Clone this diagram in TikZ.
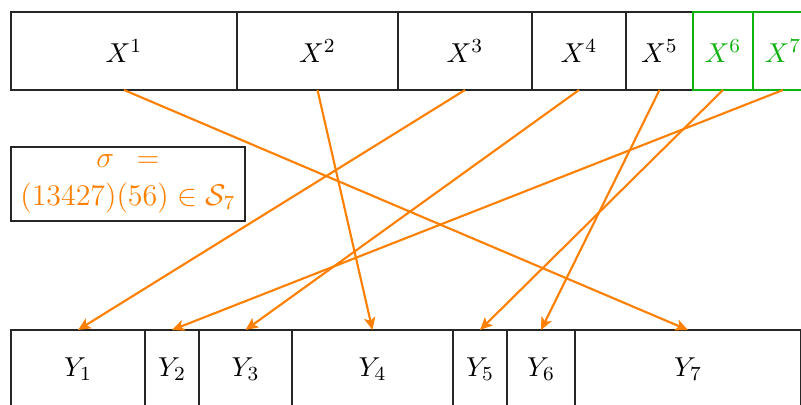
\documentclass[tikz,border=0pt]{standalone}
\usetikzlibrary{arrows.meta}
\def\pxu{0.4pt}
\definecolor{grn}{rgb}{0.05,0.70,0.05}
\definecolor{org}{rgb}{1,0.5,0}
\tikzset{
  cell/.style={draw=black!85, line width=0.45pt, inner sep=0pt, outer sep=0pt, minimum height=78*\pxu, font=\fontsize{11}{13}\selectfont},
  gcell/.style={cell, draw=grn, text=grn},
  map/.style={draw=org, line width=0.85pt, -{Stealth[length=5pt,width=4.5pt,inset=1.2pt]}},
}
\begin{document}
\begin{tikzpicture}[x=0.4pt,y=-0.4pt]
\useasboundingbox (0,0) rectangle (801,405);
\begin{scope}
\clip (0,0) rectangle (801,405);
% top row
\node[cell, minimum width=226*\pxu] (X1) at (124,51) {$X^1$};
\node[cell, minimum width=161*\pxu] (X2) at (317.5,51) {$X^2$};
\node[cell, minimum width=134*\pxu] (X3) at (465,51) {$X^3$};
\node[cell, minimum width=94*\pxu] (X4) at (579,51) {$X^4$};
\node[cell, minimum width=67*\pxu] (X5) at (659.5,51) {$X^5$};
\node[gcell, minimum width=60*\pxu] (X6) at (723,51) {$X^6$};
\node[gcell, minimum width=60*\pxu] (X7) at (783,51) {$X^7$};
% bottom row
\node[cell, minimum width=134*\pxu] (Y1) at (78,369) {$Y_1$};
\node[cell, minimum width=54*\pxu] (Y2) at (172,369) {$Y_2$};
\node[cell, minimum width=93*\pxu] (Y3) at (245.5,369) {$Y_3$};
\node[cell, minimum width=161*\pxu] (Y4) at (372.5,369) {$Y_4$};
\node[cell, minimum width=54*\pxu] (Y5) at (480,369) {$Y_5$};
\node[cell, minimum width=68*\pxu] (Y6) at (541,369) {$Y_6$};
\node[cell, minimum width=226*\pxu] (Y7) at (688,369) {$Y_7$};
\end{scope}
% permutation box
\node[cell, text=org, minimum width=234*\pxu, minimum height=74*\pxu, align=center,
      font=\fontsize{11.6}{15}\selectfont] (S) at (128,184)
  {${\sigma}\hspace{9pt}{=}$\\$(13427)(56)\in\mathcal{S}_7$};
% arrows
\draw[map] (X1.south) -- (Y7.north);
\draw[map] (X2.south) -- (Y4.north);
\draw[map] (X3.south) -- (Y1.north);
\draw[map] (X4.south) -- (Y3.north);
\draw[map] (X5.south) -- (Y6.north);
\draw[map] (X6.south) -- (Y5.north);
\draw[map] (X7.south) -- (Y2.north);
\end{tikzpicture}
\end{document}
